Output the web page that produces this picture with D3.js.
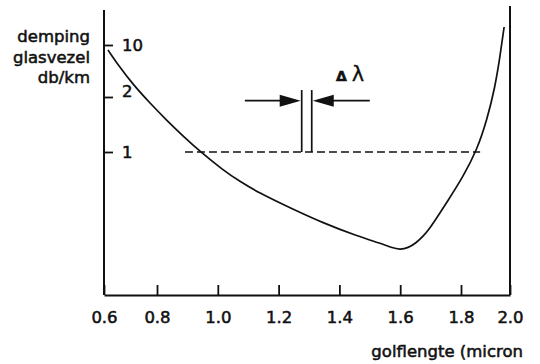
<!DOCTYPE html>
<html><head><meta charset="utf-8">
<script src="https://cdn.jsdelivr.net/npm/d3@7"></script>
<style>body{margin:0;background:#fff}text{font-family:"DejaVu Sans",sans-serif;fill:#111;stroke:#111;stroke-width:0.55px}</style></head>
<body><svg id="c" width="540" height="364"></svg>
<script>
// data (wavelength in micron, attenuation in dB/km)
const wavelength = [0.615,0.660,0.709,0.774,0.833,0.886,0.941,1.017,1.073,1.129,1.238,1.346,1.458,1.534,1.572,1.599,1.626,1.652,1.675,1.698,1.724,1.754,1.808,1.865,1.906,1.939,1.959,1.976];
const attenuation = [8.57,5.00,2.963,1.848,1.485,1.222,1.008,0.797,0.689,0.606,0.494,0.409,0.347,0.3164,0.300,0.292,0.2985,0.3177,0.3447,0.3837,0.446,0.5324,0.730,1.025,1.497,2.73,6.90,17.46];
const xTicks = [0.6,0.8,1.0,1.2,1.4,1.6,1.8,2.0];
const xTickLabels = ["0.6","0.8","1.0","1.2","1.4","1.6","1.8","2.0"];
const yTicks = [10,2,1];
const yTickLabels = ["10","2","1"];
const refLevel = [1];
const refRange = [0.892, 1.878];
const deltaLambda = [1.276, 1.309];
const deltaTop = [2.48];
const arrowLevel = [1.91];
const arrowEnds = [1.089, 1.50];

const svg = d3.select("#c");
const x = d3.scaleLinear().domain([0.6,0.8,1.8,2.0]).range([104,157,461,510]);
const y = d3.scaleLog().domain([10,2,1]).range([45,97,152]);
const fs = 16.5;

// frame lines
svg.append("line").attr("x1",104).attr("x2",104).attr("y1",10).attr("y2",295).attr("stroke","#111").attr("stroke-width",2);
svg.append("line").attr("x1",510).attr("x2",510).attr("y1",6).attr("y2",295).attr("stroke","#111").attr("stroke-width",2);

// x axis
const gx = svg.append("g").attr("transform","translate(0,295)")
  .call(d3.axisBottom(x).tickValues(xTicks).tickFormat((d,i)=>xTickLabels[i]).tickSizeInner(-10).tickSizeOuter(0).tickPadding(16));
gx.select(".domain").attr("stroke","#111").attr("stroke-width",2);
gx.selectAll(".tick line").attr("stroke","#111").attr("stroke-width",1.8);
gx.selectAll(".tick text").attr("font-size",fs).attr("font-family","DejaVu Sans").attr("fill","#111");

// y axis
const gy = svg.append("g").attr("transform","translate(104,0)")
  .call(d3.axisRight(y).tickValues(yTicks).tickFormat((d,i)=>yTickLabels[i]).tickSize(9).tickPadding(9));
gy.select(".domain").remove();
gy.selectAll(".tick line").attr("stroke","#111").attr("stroke-width",1.8);
gy.selectAll(".tick text").attr("font-size",fs).attr("font-family","DejaVu Sans").attr("fill","#111")
  .attr("dy",(d)=> d===2 ? "-0.05em" : "0.36em");

// y label
const ylab = ["demping","glasvezel","db/km"];
svg.append("g").selectAll("text").data(ylab).join("text")
  .attr("x",90).attr("y",(d,i)=>42+i*20.5).attr("text-anchor","end").attr("font-size",fs).text(d=>d);

// x label
svg.append("text").attr("x",523).attr("y",357).attr("text-anchor","end").attr("font-size",fs).text("golflengte (micron");

// reference dashed line
svg.append("line").attr("x1",x(refRange[0])).attr("x2",x(refRange[1]))
  .attr("y1",y(refLevel[0])).attr("y2",y(refLevel[0]))
  .attr("stroke","#111").attr("stroke-width",1.6).attr("stroke-dasharray","8,4");

// curve
const pts = wavelength.map((w,i)=>[w,attenuation[i]]);
svg.append("path").datum(pts)
  .attr("d",d3.line().x(d=>x(d[0])).y(d=>y(d[1])).curve(d3.curveBasis))
  .attr("fill","none").attr("stroke","#111").attr("stroke-width",1.7);

// delta lambda annotation
deltaLambda.forEach(v=>{
  svg.append("line").attr("x1",x(v)).attr("x2",x(v)).attr("y1",y(deltaTop[0])).attr("y2",y(refLevel[0]))
    .attr("stroke","#111").attr("stroke-width",1.7);
});
const ay = y(arrowLevel[0]);
const xl = x(deltaLambda[0]) - 1, xr = x(deltaLambda[1]) + 1;
svg.append("line").attr("x1",x(arrowEnds[0])).attr("x2",xl-18).attr("y1",ay).attr("y2",ay).attr("stroke","#111").attr("stroke-width",1.6);
svg.append("line").attr("x1",xr+18).attr("x2",x(arrowEnds[1])).attr("y1",ay).attr("y2",ay).attr("stroke","#111").attr("stroke-width",1.6);
svg.append("path").attr("d",`M${xl},${ay}L${xl-21},${ay-6}L${xl-21},${ay+6}Z`).attr("fill","#111");
svg.append("path").attr("d",`M${xr},${ay}L${xr+21},${ay-6}L${xr+21},${ay+6}Z`).attr("fill","#111");
const lab = svg.append("text").attr("x",336).attr("y",81);
lab.append("tspan").attr("font-size",14).attr("font-weight","bold").text("Δ");
lab.append("tspan").attr("dx",5).attr("font-size",21).style("stroke-width","0.3px").text("λ");
</script></body></html>
